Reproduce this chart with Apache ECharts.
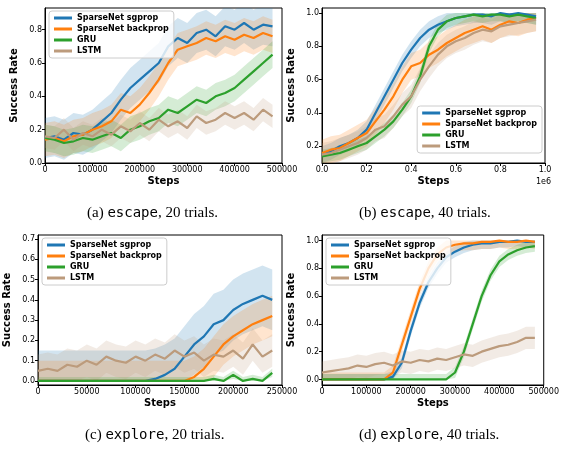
<!DOCTYPE html>
<html><head><meta charset="utf-8">
<script src="https://cdn.jsdelivr.net/npm/echarts@6/dist/echarts.min.js"></script>
<style>html,body{margin:0;background:#fff}#c{width:562px;height:453px}</style>
</head><body><div id="c"></div>
<script>
var names = ['SparseNet sgprop', 'SparseNet backprop', 'GRU', 'LSTM'];
var colors = ['#1f77b4', '#ff7f0e', '#2ca02c', '#bc9b7c'];

var stepsA = [0,20000,40000,60000,80000,100000,120000,140000,160000,180000,200000,220000,240000,260000,280000,300000,320000,340000,360000,380000,400000,420000,440000,460000,480000];
var stepsB = [0,40000,80000,120000,160000,200000,240000,280000,320000,360000,400000,440000,480000,520000,560000,600000,640000,680000,720000,760000,800000,840000,880000,920000,960000];
var stepsC = [0,10000,20000,30000,40000,50000,60000,70000,80000,90000,100000,110000,120000,130000,140000,150000,160000,170000,180000,190000,200000,210000,220000,230000,240000];
var stepsD = stepsA;

var escape20 = [
  [0.15,0.16,0.14,0.18,0.17,0.2,0.25,0.3,0.38,0.45,0.5,0.55,0.6,0.7,0.75,0.72,0.78,0.8,0.76,0.82,0.8,0.84,0.8,0.83,0.82],
  [0.14,0.15,0.13,0.16,0.17,0.2,0.22,0.25,0.32,0.3,0.35,0.42,0.5,0.6,0.68,0.7,0.72,0.75,0.73,0.76,0.74,0.77,0.75,0.78,0.76],
  [0.15,0.14,0.12,0.13,0.15,0.14,0.16,0.18,0.15,0.2,0.22,0.25,0.27,0.32,0.3,0.34,0.38,0.36,0.4,0.42,0.45,0.5,0.55,0.6,0.65],
  [0.16,0.15,0.2,0.14,0.18,0.16,0.2,0.17,0.22,0.19,0.24,0.2,0.26,0.22,0.25,0.21,0.28,0.24,0.26,0.3,0.27,0.3,0.26,0.32,0.28]
];
var escape40 = [
  [0.15,0.17,0.2,0.22,0.25,0.3,0.4,0.5,0.6,0.7,0.78,0.85,0.9,0.93,0.95,0.97,0.98,0.99,0.99,0.98,1.0,0.99,1.0,0.99,0.98],
  [0.16,0.18,0.19,0.22,0.25,0.28,0.35,0.42,0.5,0.6,0.68,0.7,0.75,0.78,0.82,0.85,0.88,0.9,0.92,0.9,0.93,0.95,0.94,0.96,0.97],
  [0.14,0.15,0.16,0.18,0.2,0.22,0.26,0.3,0.35,0.42,0.5,0.62,0.8,0.9,0.95,0.97,0.98,0.99,0.98,0.99,0.99,0.98,0.99,0.98,0.97],
  [0.15,0.16,0.18,0.2,0.22,0.25,0.3,0.32,0.38,0.45,0.5,0.6,0.68,0.75,0.8,0.83,0.85,0.88,0.9,0.89,0.92,0.93,0.94,0.95,0.96]
];
var explore20 = [
  [0,0,0,0,0,0,0,0,0,0,0,0,0.01,0.03,0.06,0.12,0.18,0.22,0.28,0.3,0.35,0.38,0.4,0.42,0.4],
  [0,0,0,0,0,0,0,0,0,0,0,0,0,0,0,0,0.02,0.06,0.12,0.18,0.22,0.25,0.28,0.3,0.32],
  [0,0,0,0,0,0,0,0,0,0,0,0,0,0,0,0,0,0,0.01,0,0.03,0,0.01,0,0.04],
  [0.05,0.06,0.05,0.08,0.07,0.1,0.08,0.12,0.1,0.09,0.12,0.1,0.13,0.11,0.15,0.12,0.14,0.1,0.13,0.12,0.15,0.11,0.18,0.12,0.15]
];
var explore40 = [
  [0,0,0,0,0,0,0,0,0.02,0.12,0.35,0.55,0.7,0.8,0.88,0.92,0.95,0.97,0.98,0.98,0.99,0.99,1.0,0.99,0.99],
  [0,0,0,0,0,0,0,0,0.05,0.25,0.45,0.65,0.8,0.9,0.95,0.97,0.98,0.98,0.99,0.99,1.0,0.99,0.99,1.0,0.99],
  [0,0,0,0,0,0,0,0,0,0,0,0,0,0,0,0.05,0.2,0.4,0.6,0.75,0.85,0.9,0.93,0.95,0.96],
  [0.05,0.06,0.07,0.08,0.1,0.09,0.11,0.12,0.1,0.13,0.12,0.14,0.13,0.15,0.14,0.16,0.18,0.17,0.2,0.22,0.24,0.25,0.27,0.3,0.3]
];
var spreads = [[0.12,0.1,0.08,0.07],[0.05,0.08,0.04,0.07],[0.15,0.1,0.02,0.08],[0.04,0.05,0.04,0.08]];

var panels = [
  {steps: stepsA, data: escape20, grid: {left: 45, top: 8, width: 237, height: 155}, x: [0, 500000, 100000], y: [0, 0.93, 0.2], legend: 'tl', cap: ['(a) ', 'escape', ', 20 trials.'], cx: 162, cy: 215},
  {steps: stepsB, data: escape40, grid: {left: 322, top: 8, width: 223, height: 155}, x: [0, 1000000, 200000], y: [0.1, 1.03, 0.2], legend: 'br', cap: ['(b) ', 'escape', ', 40 trials.'], cx: 434, cy: 215},
  {steps: stepsC, data: explore20, grid: {left: 38, top: 235, width: 244, height: 150}, x: [0, 250000, 50000], y: [-0.02, 0.72, 0.1], legend: 'tl', cap: ['(c) ', 'explore', ', 20 trials.'], cx: 160, cy: 437},
  {steps: stepsD, data: explore40, grid: {left: 322, top: 235, width: 223, height: 150}, x: [0, 500000, 100000], y: [-0.04, 1.04, 0.2], legend: 'tl', cap: ['(d) ', 'explore', ', 40 trials.'], cx: 434, cy: 437}
];

function yTicks(p) {
  var a = [], s = Math.ceil(p.y[0] / p.y[2] - 1e-9);
  for (var k = s; k * p.y[2] <= Math.min(p.y[1], 1.0001); k++) a.push(+(k * p.y[2]).toFixed(2));
  return a;
}

// band polygon drawn once per series through the axis coordinates
function bandRender(params, api) {
  if (params.dataIndex !== 0) return;
  var n = params.dataInsideLength || 0;
  var up = [], lo = [];
  var data = params.context.rows;
  for (var k = 0; k < data.length; k++) {
    up.push(api.coord([data[k][0], data[k][2]]));
    lo.push(api.coord([data[k][0], data[k][1]]));
  }
  return {type: 'polygon', shape: {points: up.concat(lo.reverse())},
    style: {fill: params.context.color, opacity: 0.2}, silent: true};
}

var grids = [], xAxes = [], yAxes = [], series = [], legends = [], graphics = [];
panels.forEach(function (p, i) {
  grids.push(Object.assign({show: true, borderColor: '#000', borderWidth: 1, backgroundColor: 'transparent'}, p.grid));
  xAxes.push({
    type: 'value', gridIndex: i, min: p.x[0], max: p.x[1], interval: p.x[2],
    name: 'Steps', nameLocation: 'middle', nameGap: 13,
    nameTextStyle: {fontWeight: 'bold', fontSize: 10, color: '#000', fontFamily: 'DejaVu Sans'},
    axisLine: {onZero: false, lineStyle: {color: '#000'}}, axisTick: {length: 3, lineStyle: {color: '#000'}},
    splitLine: {show: false},
    axisLabel: {fontSize: 8, color: '#000', margin: 3, fontFamily: 'DejaVu Sans',
      formatter: i === 1 ? function (v) { return (v / 1e6).toFixed(1); } : function (v) { return String(v); }}
  });
  var t = yTicks(p);
  yAxes.push({
    type: 'value', gridIndex: i, min: p.y[0], max: p.y[1],
    name: 'Success Rate', nameLocation: 'middle', nameGap: 26,
    nameTextStyle: {fontWeight: 'bold', fontSize: 10, color: '#000', fontFamily: 'DejaVu Sans'},
    axisLine: {show: true, onZero: false, lineStyle: {color: '#000'}},
    axisTick: {show: true, length: 3, lineStyle: {color: '#000'}, customValues: t},
    splitLine: {show: false},
    axisLabel: {fontSize: 8, color: '#000', margin: 3, fontFamily: 'DejaVu Sans', customValues: t,
      formatter: function (v) { return v.toFixed(1); }}
  });
  p.data.forEach(function (vals, s) {
    var sp = spreads[i][s];
    var rows = vals.map(function (v, k) { return [p.steps[k], Math.max(0, v - sp), Math.min(1, v + sp)]; });
    series.push({type: 'custom', xAxisIndex: i, yAxisIndex: i, data: rows, silent: true, z: 1, clip: true,
      renderItem: (function (rows, color) {
        return function (params, api) { params.context.rows = rows; params.context.color = color; return bandRender(params, api); };
      })(rows, colors[s]), encode: {x: 0, y: [1, 2]}});
    series.push({type: 'line', name: names[s], xAxisIndex: i, yAxisIndex: i, symbol: 'none',
      data: vals.map(function (v, k) { return [p.steps[k], v]; }), lineStyle: {color: colors[s], width: 2.2}, itemStyle: {color: colors[s]}, z: 3});
  });
  var g = p.grid;
  var lg = {orient: 'vertical', data: names, icon: 'rect', itemWidth: 18, itemHeight: 3, itemGap: 3,
    textStyle: {fontSize: 8, fontWeight: 'bold', color: '#000', fontFamily: 'DejaVu Sans'},
    borderColor: '#ccc', borderWidth: 1, borderRadius: 3, padding: [3, 5], backgroundColor: 'rgba(255,255,255,0.8)', selectedMode: false};
  if (p.legend === 'tl') { lg.left = g.left + 4; lg.top = g.top + 3; }
  else { lg.right = 562 - g.left - g.width + 3; lg.top = g.top + 98; }
  legends.push(lg);
  graphics.push({type: 'text', left: p.cx - 75, top: p.cy - 9, style: {
    text: p.cap[0] + '{m|' + p.cap[1] + '}' + p.cap[2],
    font: '15px "Liberation Serif"', fill: '#000',
    rich: {m: {fontFamily: 'DejaVu Sans Mono', fontSize: 14}}}});
});
graphics.push({type: 'text', left: 536, top: 178, style: {text: '1e6', font: '8px "DejaVu Sans"', fill: '#000'}});

var chart = echarts.init(document.getElementById('c'));
chart.setOption({animation: false, grid: grids, xAxis: xAxes, yAxis: yAxes, series: series, legend: legends, graphic: graphics});
</script></body></html>
